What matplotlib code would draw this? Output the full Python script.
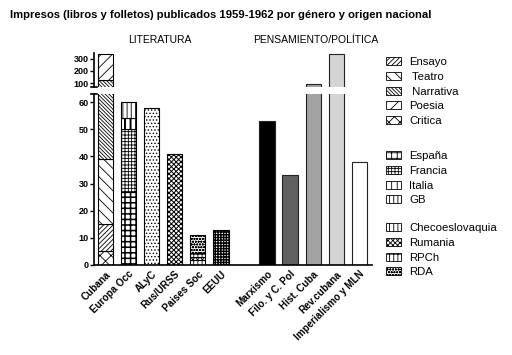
import matplotlib
matplotlib.use("Agg")
import matplotlib.pyplot as plt
from matplotlib.patches import Patch
import numpy as np

plt.rcParams['font.family'] = ['Liberation Sans', 'DejaVu Sans']
plt.rcParams['hatch.linewidth'] = 0.6

categories = ['Cubana', 'Europa Occ', 'ALyC', 'Rus/URSS', 'Paises Soc', 'EEUU',
              'Marxismo', 'Filo. y C. Pol', 'Hist. Cuba', 'Rev.cubana', 'Imperialismo y MLN']
positions = [0, 1, 2, 3, 4, 5, 7, 8, 9, 10, 11]

# Cubana stack (bottom -> top)
cubana_labels = ['Critica', 'Ensayo', ' Teatro', ' Narrativa', 'Poesia']
cubana_values = [5, 10, 24, 86, 215]
# Europa Occ stack
europa_labels = ['España', 'Francia', 'Italia', 'GB']
europa_values = [27, 23, 4, 6]
# Paises Soc stack
soc_labels = ['Checoeslovaquia', 'Rumania', 'RPCh', 'RDA']
soc_values = [2, 1, 1.5, 6.5]
# single bars
alyc_value = 58
urss_value = 41
eeuu_value = 13
pens_values = [53, 33, 95, 340, 38]

hatches = {'Ensayo': '///////', ' Teatro': '\\\\\\', ' Narrativa': '\\\\\\\\\\\\\\\\\\',
           'Poesia': '///', 'Critica': 'xxx', 'España': '+++', 'Francia': '+++++',
           'Italia': '|||', 'GB': '||||', 'Checoeslovaquia': '||||', 'Rumania': 'xxxxxxx',
           'RPCh': '--||||', 'RDA': 'oooooo', 'ALyC': '.....', 'URSS': 'xxxxxxx',
           'EEUU': '++++++'}
hatch_lw = {'España': 1.1, 'Italia': 1.4, 'EEUU': 1.0, 'URSS': 0.7}
pens_colors = ['#000000', '#606060', '#a3a3a3', '#d4d4d4', '#ffffff']

fig = plt.figure(figsize=(5.12, 3.55), dpi=100)
W, H = 512, 355
x0, x1 = 94, 372
ax_top = fig.add_axes([x0 / W, 1 - 87 / H, (x1 - x0) / W, (87 - 53) / H])
ax_bot = fig.add_axes([x0 / W, 1 - 265 / H, (x1 - x0) / W, (265 - 94) / H])

bw = 0.66

def hbar(ax, p, v, b, key):
    bars = ax.bar(p, v, bottom=b, width=bw, edgecolor='black', linewidth=0.8,
                  facecolor='white', hatch=hatches[key])
    if key in hatch_lw:
        for r in bars:
            try:
                r.set_hatch_linewidth(hatch_lw[key])
            except Exception:
                pass

for ax in (ax_top, ax_bot):
    b = 0
    for lab, v in zip(cubana_labels, cubana_values):
        hbar(ax, positions[0], v, b, lab)
        b += v
    b = 0
    for lab, v in zip(europa_labels, europa_values):
        hbar(ax, positions[1], v, b, lab)
        b += v
    hbar(ax, positions[2], alyc_value, 0, 'ALyC')
    hbar(ax, positions[3], urss_value, 0, 'URSS')
    b = 0
    for lab, v in zip(soc_labels, soc_values):
        hbar(ax, positions[4], v, b, lab)
        b += v
    hbar(ax, positions[5], eeuu_value, 0, 'EEUU')
    for p, v, c in zip(positions[6:], pens_values, pens_colors):
        ax.bar(p, v, width=bw, color=c, edgecolor='#222222', linewidth=0.8)
    ax.set_xlim(-0.5, 11.55)
    ax.spines['right'].set_visible(False)
    ax.spines['top'].set_visible(False)
    ax.tick_params(axis='y', length=3, width=1, labelsize=6.5, pad=1)
    ax.spines['left'].set_linewidth(1.2)

ax_top.set_ylim(70, 345)
ax_top.set_yticks([100, 200, 300])
ax_top.spines['bottom'].set_visible(False)
ax_top.set_xticks([])
ax_bot.set_ylim(0, 63)
ax_bot.set_yticks([0, 10, 20, 30, 40, 50, 60])
ax_bot.spines['bottom'].set_linewidth(1.2)
ax_bot.set_xticks(positions)
ax_bot.set_xticklabels(categories, rotation=45, ha='right', rotation_mode='anchor',
                       fontsize=7.1, fontweight='bold')
ax_bot.tick_params(axis='x', length=0, pad=3)
for ax in (ax_top, ax_bot):
    for t in ax.get_yticklabels():
        t.set_fontweight('bold')

# break markers
ax_top.plot([-0.62, -0.38], [70, 70], color='black', lw=1.2, clip_on=False)
ax_bot.plot([-0.62, -0.38], [63, 63], color='black', lw=1.2, clip_on=False)

fig.text(10 / W, 1 - 15 / H,
         'Impresos (libros y folletos) publicados 1959-1962 por género y origen nacional',
         fontsize=8.1, fontweight='bold', va='center', ha='left')
fig.text(160 / W, 1 - 40 / H, 'LITERATURA', fontsize=7.5, ha='center', va='center')
fig.text(316 / W, 1 - 40 / H, 'PENSAMIENTO/POLÍTICA', fontsize=7.5, ha='center', va='center')

def legend_group(labels, ytop):
    handles = []
    for l in labels:
        h = Patch(facecolor='white', edgecolor='black', linewidth=0.6, hatch=hatches[l])
        if l in hatch_lw:
            try:
                h.set_hatch_linewidth(hatch_lw[l])
            except Exception:
                pass
        handles.append(h)
    leg = fig.legend(handles, labels, loc='upper left',
                     bbox_to_anchor=(386 / W, 1 - ytop / H), frameon=False,
                     fontsize=8.2, handlelength=1.3, handleheight=0.7,
                     labelspacing=0.42, handletextpad=0.75, borderaxespad=0, borderpad=0)
    return leg

legend_group(['Ensayo', ' Teatro', ' Narrativa', 'Poesia', 'Critica'], 57)
legend_group(['España', 'Francia', 'Italia', 'GB'], 151)
legend_group(['Checoeslovaquia', 'Rumania', 'RPCh', 'RDA'], 223)

fig.savefig('out.png', dpi=100)
